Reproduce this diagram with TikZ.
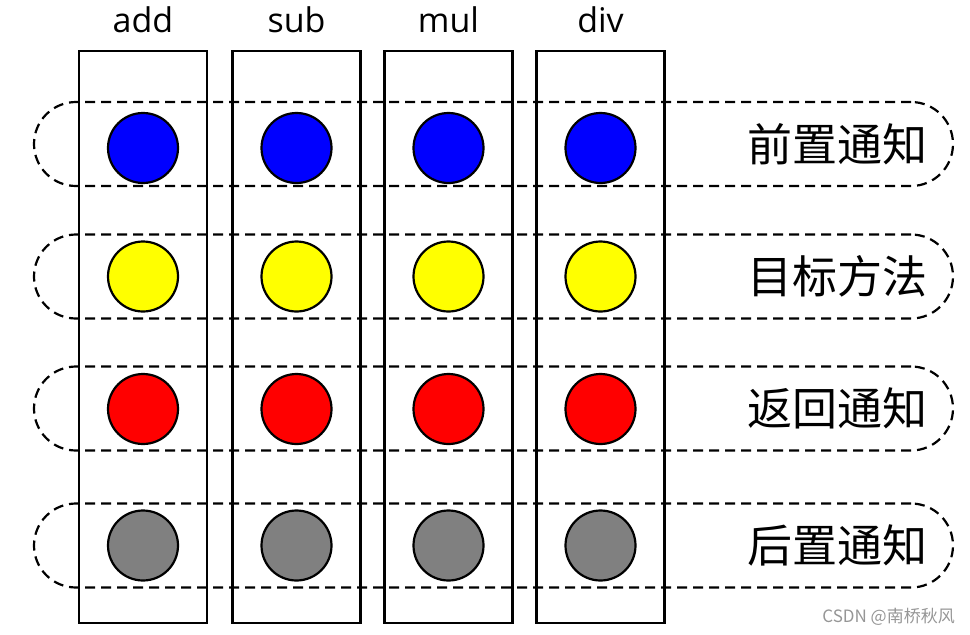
\documentclass[tikz,border=0pt]{standalone}
\usepackage{fontspec}
\setmainfont{Open Sans}
\newfontfamily\cjk{Noto Sans CJK SC}
\usepackage{tikz}
\usetikzlibrary{positioning}
\definecolor{dotblue}{RGB}{0,0,255}
\definecolor{dotyellow}{RGB}{255,255,0}
\definecolor{dotred}{RGB}{255,0,0}
\definecolor{dotgray}{RGB}{128,128,128}
\definecolor{markgray}{RGB}{150,150,150}
\tikzset{%
    method/.style={draw,line width=2.2pt,minimum width=128pt,minimum height=572pt,inner sep=0pt},
    band/.style={draw,dashed,dash pattern=on 10pt off 6pt,line width=2.2pt,minimum width=919pt,minimum height=84pt,rounded corners=42pt,inner sep=0pt},
    dot/.style={circle,draw,line width=2.2pt,minimum size=70pt,inner sep=0pt},
    methodname/.style={inner sep=0pt,font=\fontsize{34}{36}\selectfont},
    phase/.style={inner sep=0pt,font=\cjk\fontsize{45}{48}\selectfont},
    watermark/.style={inner sep=0pt,text=markgray,font=\cjk\fontsize{17}{19}\selectfont}
}
\begin{document}
\begin{tikzpicture}[x=1pt,y=-1pt]
    \useasboundingbox (0,0) rectangle (970,635);
    % the four advice phases
    \node[band] (before) at (493.5,144) {};
    \node[band] (target) at (493.5,276.5) {};
    \node[band] (return) at (493.5,408.5) {};
    \node[band] (after) at (493.5,545.5) {};
    \node[phase,left=26pt of before.east] (beforetext) {前置通知};
    \node[phase,left=26pt of target.east] (targettext) {目标方法};
    \node[phase,left=26pt of return.east] (returntext) {返回通知};
    \node[phase,left=26pt of after.east] (aftertext) {后置通知};
    % the four methods
    \node[method] (add) at (143,337) {};
    \node[method] (sub) at (296.5,337) {};
    \node[method] (mul) at (448.5,337) {};
    \node[method] (div) at (600.5,337) {};
    \node[methodname,above=17pt of add.north] (addname) {add};
    \node[methodname,above=17pt of sub.north] (subname) {sub};
    \node[methodname,above=17pt of mul.north] (mulname) {mul};
    \node[methodname,above=17pt of div.north] (divname) {div};
    \node[dot,fill=dotblue] (add1) at (143,148) {};
    \node[dot,fill=dotblue] (sub1) at (296.5,148) {};
    \node[dot,fill=dotblue] (mul1) at (448.5,148) {};
    \node[dot,fill=dotblue] (div1) at (600.5,148) {};
    \node[dot,fill=dotyellow] (add2) at (143,276.5) {};
    \node[dot,fill=dotyellow] (sub2) at (296.5,276.5) {};
    \node[dot,fill=dotyellow] (mul2) at (448.5,276.5) {};
    \node[dot,fill=dotyellow] (div2) at (600.5,276.5) {};
    \node[dot,fill=dotred] (add3) at (143,409) {};
    \node[dot,fill=dotred] (sub3) at (296.5,409) {};
    \node[dot,fill=dotred] (mul3) at (448.5,409) {};
    \node[dot,fill=dotred] (div3) at (600.5,409) {};
    \node[dot,fill=dotgray] (add4) at (143,545.5) {};
    \node[dot,fill=dotgray] (sub4) at (296.5,545.5) {};
    \node[dot,fill=dotgray] (mul4) at (448.5,545.5) {};
    \node[dot,fill=dotgray] (div4) at (600.5,545.5) {};
    \node[watermark,anchor=east] (csdn) at (955,617) {CSDN @南桥秋风};
\end{tikzpicture}
\end{document}
